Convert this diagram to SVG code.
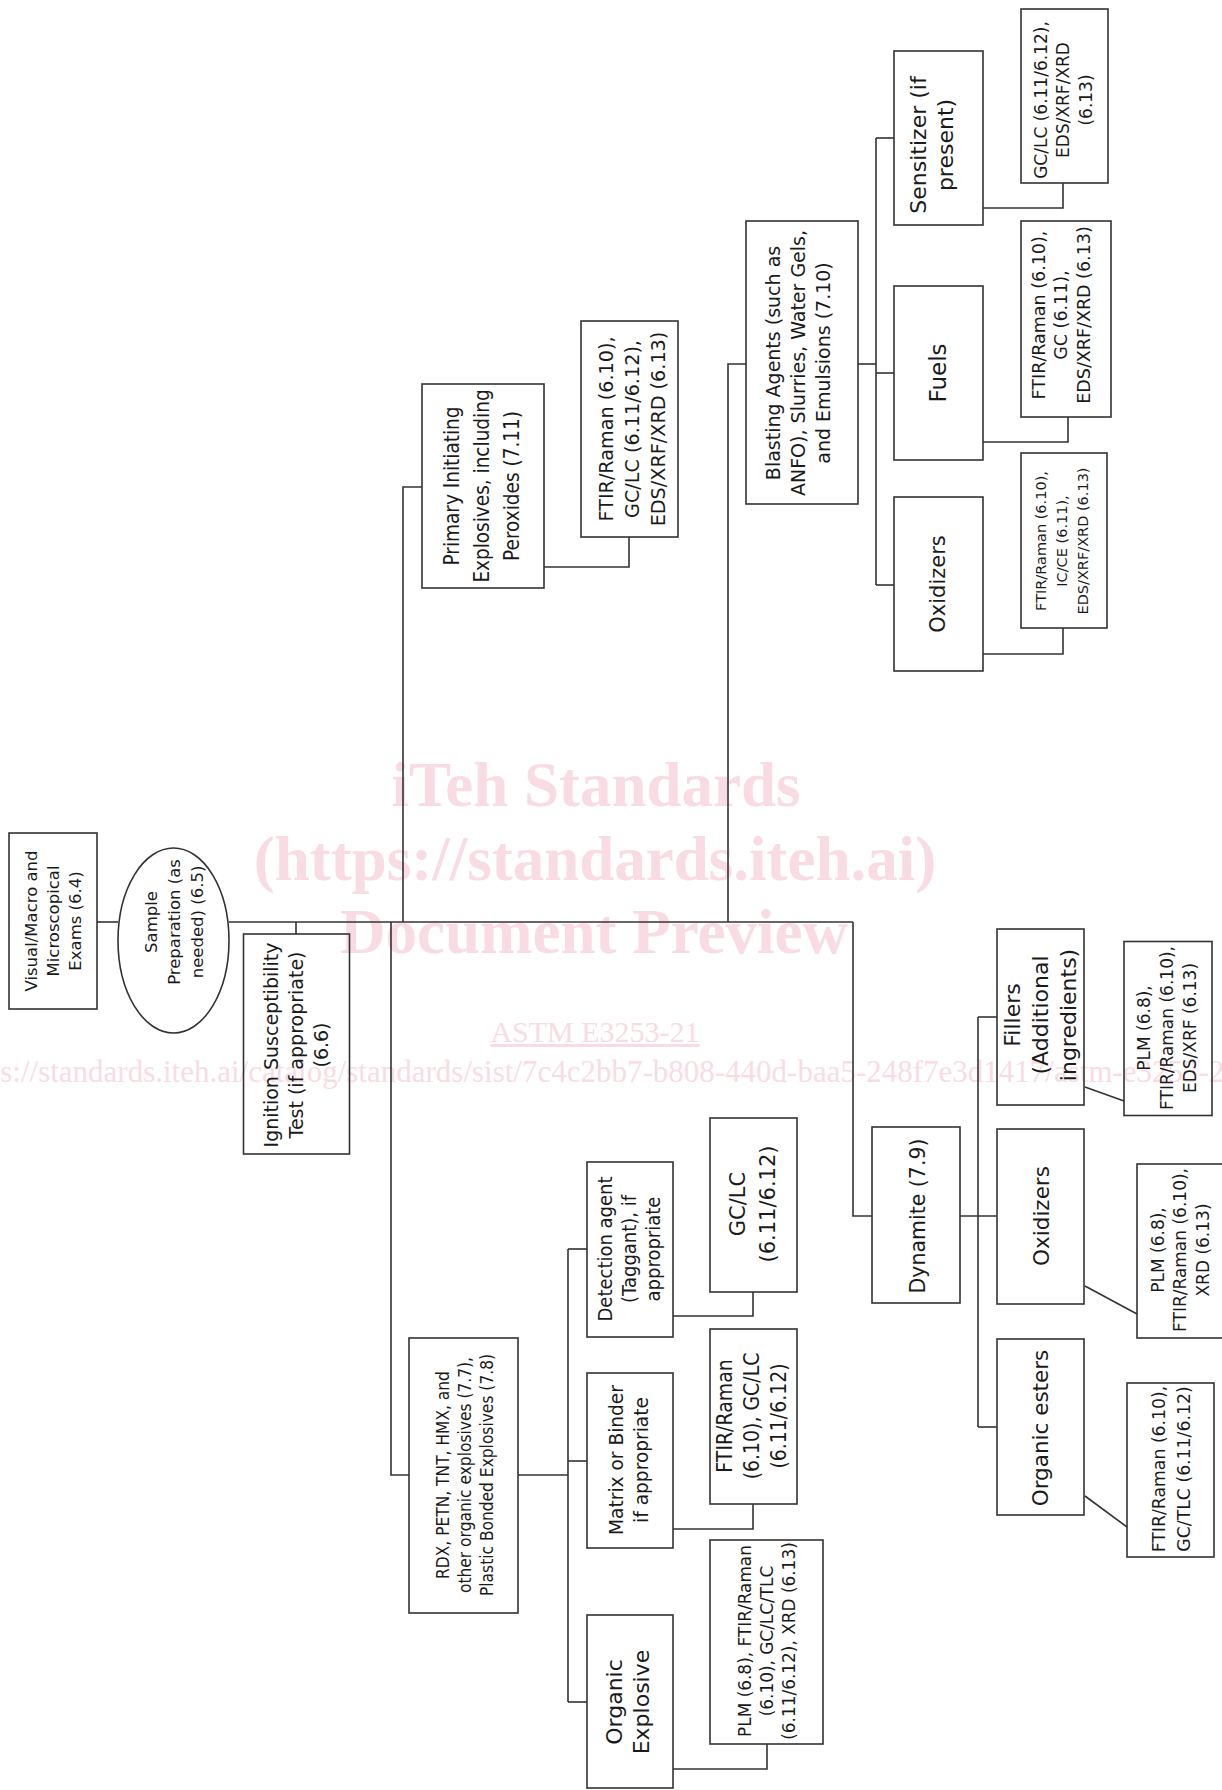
<svg xmlns="http://www.w3.org/2000/svg" width="1222" height="1790" viewBox="0 0 1222 1790">
<style>
.bg{fill:#ffffff}
.wm{fill:#f9dce3;font-family:"Liberation Serif",serif}
.wmb{font-weight:bold;font-size:63px}
.box{fill:none;stroke:#333;stroke-width:1.6}
.ln{fill:none;stroke:#333;stroke-width:1.6}
.t{fill:#1a1a1a;font-family:"DejaVu Sans",Verdana,sans-serif;text-anchor:middle;dominant-baseline:central}
.t tspan{dominant-baseline:central}
</style>
<rect class="bg" x="0" y="0" width="1222" height="1790"/>
<g id="watermark">
<text class="wm wmb" x="596" y="806" text-anchor="middle">iTeh Standards</text>
<text class="wm wmb" x="595" y="880" text-anchor="middle">(https://standards.iteh.ai)</text>
<text class="wm wmb" x="594" y="953" text-anchor="middle">Document Preview</text>
<text class="wm" x="595" y="1042" text-anchor="middle" font-size="30" text-decoration="underline">ASTM E3253-21</text>
<text class="wm" x="-48" y="1082" font-size="31">https://standards.iteh.ai/catalog/standards/sist/7c4c2bb7-b808-440d-baa5-248f7e3d1417/astm-e3253-21</text>
</g>
<g id="connectors">
<path class="ln" d="M97,922 H118"/>
<path class="ln" d="M229,922 H853"/>
<path class="ln" d="M296,922 V934"/>
<path class="ln" d="M403,922 V487 H422"/>
<path class="ln" d="M544,567 H629 V537"/>
<path class="ln" d="M728,922 V364 H746"/>
<path class="ln" d="M858,364 H876"/>
<path class="ln" d="M876,138 V585"/>
<path class="ln" d="M876,138 H894"/>
<path class="ln" d="M876,373 H894"/>
<path class="ln" d="M876,585 H894"/>
<path class="ln" d="M983,208 H1063 V183"/>
<path class="ln" d="M983,442 H1068 V417"/>
<path class="ln" d="M983,654 H1063 V628"/>
<path class="ln" d="M391,922 V1475 H409"/>
<path class="ln" d="M518,1475 H568"/>
<path class="ln" d="M568,1249 V1702"/>
<path class="ln" d="M568,1249 H587"/>
<path class="ln" d="M568,1461 H587"/>
<path class="ln" d="M568,1702 H587"/>
<path class="ln" d="M673,1316 H753 V1292"/>
<path class="ln" d="M673,1529 H753 V1504"/>
<path class="ln" d="M673,1769 H767 V1744"/>
<path class="ln" d="M853,922 V1216 H872"/>
<path class="ln" d="M960,1216 H997"/>
<path class="ln" d="M978,1017 V1427"/>
<path class="ln" d="M978,1017 H997"/>
<path class="ln" d="M978,1427 H997"/>
<path class="ln" d="M1085,1087 L1124,1101"/>
<path class="ln" d="M1085,1286 L1137,1314"/>
<path class="ln" d="M1085,1496 L1127,1527"/>
</g>
<g id="visual">
<rect class="box" x="9" y="833" width="88" height="176"/>
<text class="t" font-size="16.5" transform="translate(53,921) rotate(-90)"><tspan x="0" y="-22">Visual/Macro and</tspan><tspan x="0" y="0">Microscopical</tspan><tspan x="0" y="22">Exams (6.4)</tspan></text>
</g>
<g id="sample-prep">
<ellipse class="box" cx="173.5" cy="940.5" rx="55.5" ry="92.5"/>
<text class="t" font-size="16.5" transform="translate(174,922) rotate(-90)"><tspan x="0" y="-23">Sample</tspan><tspan x="0" y="0">Preparation (as</tspan><tspan x="0" y="23">needed) (6.5)</tspan></text>
</g>
<g id="ignition">
<rect class="box" x="243.5" y="934" width="106" height="220"/>
<text class="t" font-size="19" transform="translate(296,1045) rotate(-90)"><tspan x="0" y="-25">Ignition Susceptibility</tspan><tspan x="0" y="0">Test (if appropriate)</tspan><tspan x="0" y="25">(6.6)</tspan></text>
</g>
<g id="primary">
<rect class="box" x="422" y="384" width="122" height="204"/>
<text class="t" font-size="21" transform="translate(482,486) rotate(-90) scale(0.88,1)"><tspan x="0" y="-30">Primary Initiating</tspan><tspan x="0" y="0">Explosives, including</tspan><tspan x="0" y="30">Peroxides (7.11)</tspan></text>
</g>
<g id="primary-tests">
<rect class="box" x="581" y="321" width="97" height="216"/>
<text class="t" font-size="20" transform="translate(632,429) rotate(-90) scale(0.96,1)"><tspan x="0" y="-26">FTIR/Raman (6.10),</tspan><tspan x="0" y="0">GC/LC (6.11/6.12),</tspan><tspan x="0" y="26">EDS/XRF/XRD (6.13)</tspan></text>
</g>
<g id="blasting">
<rect class="box" x="746" y="221" width="112" height="283"/>
<text class="t" font-size="19" transform="translate(798,363) rotate(-90)"><tspan x="0" y="-25">Blasting Agents (such as</tspan><tspan x="0" y="0">ANFO), Slurries, Water Gels,</tspan><tspan x="0" y="25">and Emulsions (7.10)</tspan></text>
</g>
<g id="sensitizer">
<rect class="box" x="894" y="51" width="89" height="174"/>
<text class="t" font-size="22" transform="translate(931,145) rotate(-90)"><tspan x="0" y="-13.5">Sensitizer (if</tspan><tspan x="0" y="13.5">present)</tspan></text>
</g>
<g id="fuels">
<rect class="box" x="894" y="286" width="89" height="174"/>
<text class="t" font-size="23" transform="translate(938,373) rotate(-90)">Fuels</text>
</g>
<g id="oxidizers-blasting">
<rect class="box" x="894" y="497" width="89" height="174"/>
<text class="t" font-size="21" transform="translate(938,584) rotate(-90)">Oxidizers</text>
</g>
<g id="sensitizer-tests">
<rect class="box" x="1021" y="9" width="87" height="174"/>
<text class="t" font-size="17" transform="translate(1063,100) rotate(-90)"><tspan x="0" y="-22.5">GC/LC (6.11/6.12),</tspan><tspan x="0" y="0">EDS/XRF/XRD</tspan><tspan x="0" y="22.5">(6.13)</tspan></text>
</g>
<g id="fuels-tests">
<rect class="box" x="1021" y="221" width="90" height="196"/>
<text class="t" font-size="17.5" transform="translate(1061,315) rotate(-90)"><tspan x="0" y="-22.5">FTIR/Raman (6.10),</tspan><tspan x="0" y="0">GC (6.11),</tspan><tspan x="0" y="22.5">EDS/XRF/XRD (6.13)</tspan></text>
</g>
<g id="oxidizers-blasting-tests">
<rect class="box" x="1021" y="453" width="86" height="175"/>
<text class="t" font-size="14.5" transform="translate(1062,541) rotate(-90)"><tspan x="0" y="-21">FTIR/Raman (6.10),</tspan><tspan x="0" y="0">IC/CE (6.11),</tspan><tspan x="0" y="21">EDS/XRF/XRD (6.13)</tspan></text>
</g>
<g id="rdx">
<rect class="box" x="409" y="1338" width="109" height="275"/>
<text class="t" font-size="17" transform="translate(465,1475) rotate(-90) scale(0.91,1)"><tspan x="0" y="-22">RDX, PETN, TNT, HMX, and</tspan><tspan x="0" y="0">other organic explosives (7.7),</tspan><tspan x="0" y="22">Plastic Bonded Explosives (7.8)</tspan></text>
</g>
<g id="detection">
<rect class="box" x="587" y="1162" width="86" height="175"/>
<text class="t" font-size="20" transform="translate(629,1249) rotate(-90) scale(0.9,1)"><tspan x="0" y="-24">Detection agent</tspan><tspan x="0" y="0">(Taggant), if</tspan><tspan x="0" y="24">appropriate</tspan></text>
</g>
<g id="matrix">
<rect class="box" x="587" y="1373" width="86" height="175"/>
<text class="t" font-size="20" transform="translate(628,1460) rotate(-90) scale(0.93,1)"><tspan x="0" y="-12.5">Matrix or Binder</tspan><tspan x="0" y="12.5">if appropriate</tspan></text>
</g>
<g id="organic-explosive">
<rect class="box" x="587" y="1615" width="86" height="173"/>
<text class="t" font-size="22" transform="translate(627,1702) rotate(-90)"><tspan x="0" y="-13.5">Organic</tspan><tspan x="0" y="13.5">Explosive</tspan></text>
</g>
<g id="detection-tests">
<rect class="box" x="710" y="1118" width="87" height="174"/>
<text class="t" font-size="21" transform="translate(753,1204) rotate(-90)"><tspan x="0" y="-15">GC/LC</tspan><tspan x="0" y="15">(6.11/6.12)</tspan></text>
</g>
<g id="matrix-tests">
<rect class="box" x="710" y="1329" width="87" height="175"/>
<text class="t" font-size="21" transform="translate(752,1416) rotate(-90) scale(0.9,1)"><tspan x="0" y="-27">FTIR/Raman</tspan><tspan x="0" y="0">(6.10), GC/LC</tspan><tspan x="0" y="27">(6.11/6.12)</tspan></text>
</g>
<g id="organic-explosive-tests">
<rect class="box" x="710" y="1540" width="113" height="204"/>
<text class="t" font-size="18" transform="translate(767,1641) rotate(-90) scale(0.94,1)"><tspan x="0" y="-21.7">PLM (6.8), FTIR/Raman</tspan><tspan x="0" y="0">(6.10), GC/LC/TLC</tspan><tspan x="0" y="21.7">(6.11/6.12), XRD (6.13)</tspan></text>
</g>
<g id="dynamite">
<rect class="box" x="872" y="1127" width="88" height="176"/>
<text class="t" font-size="20.5" transform="translate(918,1216) rotate(-90)">Dynamite (7.9)</text>
</g>
<g id="fillers">
<rect class="box" x="997" y="929" width="87" height="176"/>
<text class="t" font-size="22" transform="translate(1040,1015) rotate(-90)"><tspan x="0" y="-28">Fillers</tspan><tspan x="0" y="0">(Additional</tspan><tspan x="0" y="28">ingredients)</tspan></text>
</g>
<g id="oxidizers-dynamite">
<rect class="box" x="997" y="1129" width="87" height="175"/>
<text class="t" font-size="21.5" transform="translate(1041,1216) rotate(-90)">Oxidizers</text>
</g>
<g id="organic-esters">
<rect class="box" x="997" y="1339" width="87" height="176"/>
<text class="t" font-size="21.5" transform="translate(1040,1428) rotate(-90)">Organic esters</text>
</g>
<g id="fillers-tests">
<rect class="box" x="1124" y="941.5" width="88" height="174"/>
<text class="t" font-size="17" transform="translate(1167,1028) rotate(-90)"><tspan x="0" y="-23">PLM (6.8),</tspan><tspan x="0" y="0">FTIR/Raman (6.10),</tspan><tspan x="0" y="23">EDS/XRF (6.13)</tspan></text>
</g>
<g id="oxidizers-dynamite-tests">
<rect class="box" x="1137" y="1164" width="95" height="174"/>
<text class="t" font-size="17" transform="translate(1180,1250) rotate(-90)"><tspan x="0" y="-22.5">PLM (6.8),</tspan><tspan x="0" y="0">FTIR/Raman (6.10),</tspan><tspan x="0" y="22.5">XRD (6.13)</tspan></text>
</g>
<g id="organic-esters-tests">
<rect class="box" x="1127" y="1383" width="87" height="174"/>
<text class="t" font-size="17.3" transform="translate(1171,1469) rotate(-90)"><tspan x="0" y="-12.5">FTIR/Raman (6.10),</tspan><tspan x="0" y="12.5">GC/TLC (6.11/6.12)</tspan></text>
</g>
</svg>
